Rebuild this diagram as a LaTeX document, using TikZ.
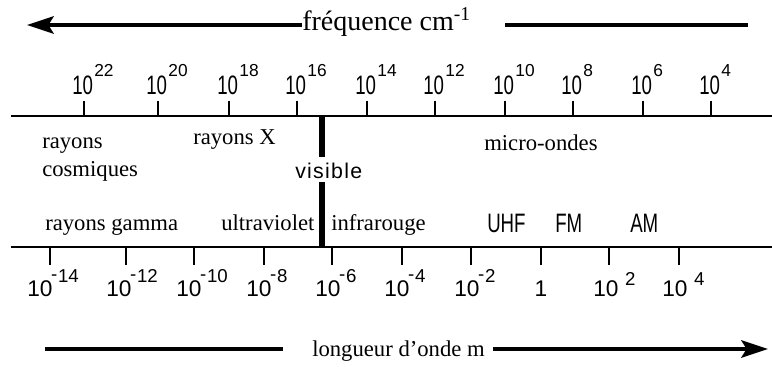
\documentclass[tikz,border=0pt]{standalone}
\usepackage{fontspec}
\setmainfont{Liberation Serif}
\newfontfamily\numfont[FakeStretch=0.7]{Liberation Sans}
\newfontfamily\supfont{Liberation Sans}
\newfontfamily\visfont[LetterSpace=6]{Liberation Sans}
\usepackage{tikz}
\usetikzlibrary{calc,arrows.meta}
\newcommand{\freqlab}[1]{10\kern1pt\raisebox{13.5pt}{\supfont\fontsize{13}{13}\selectfont #1}}
\newcommand{\wavelab}[1]{10\kern-1pt\raisebox{12.5pt}{\fontsize{14}{14}\selectfont -}\kern0.5pt\raisebox{11pt}{\fontsize{14}{14}\selectfont #1}}
\newcommand{\wavepos}[1]{10\kern5pt\raisebox{9pt}{\fontsize{14}{14}\selectfont #1}}

\begin{document}
\begin{tikzpicture}[x=0.75pt,y=-0.75pt,
  lbl/.style={anchor=base west,inner sep=0pt,font=\fontsize{17}{20}\selectfont},
  num/.style={anchor=base west,inner sep=0pt,font=\numfont\fontsize{20}{20}\selectfont},
  wnum/.style={anchor=base west,inner sep=0pt,font=\supfont\fontsize{17}{17}\selectfont},
  shaft/.style={line width=2.8pt},
  tip/.style={-{Stealth[length=20pt,width=13pt,inset=4pt]}},
  axisline/.style={line width=1.2pt},
  tickmark/.style={line width=1pt}]
\useasboundingbox (0,0) rectangle (772,367);
% frequency arrow
\node[lbl,font=\fontsize{21}{24}\selectfont] (freq) at (302,31) {fréquence cm\textsuperscript{-1}};
\coordinate (fl) at (27,25);
\coordinate (fra) at (505,25); \coordinate (frb) at (748,25);
\draw[shaft,tip] (fl -| freq.west) -- (fl);
\draw[shaft] (fra) -- (frb);
% axes
\draw[axisline] (11,116) -- (772,116);
\draw[axisline] (11,247) -- (772,247);
\foreach \x/\e in {84/22,158/20,229/18,297/16,367/14,435/12,505/10,573/8,643/6,711/4}{
  \draw[tickmark] (\x,101) -- (\x,116);
  \node[num] (f\e) at (\x-12,95) {\freqlab{\e}};
}
\foreach \x/\p/\e in {50/27/14,126/106/12,194/176/10,264/246/8,332/315/6,402/384/4,471/454/2}{
  \draw[tickmark] (\x,248) -- (\x,265);
  \node[wnum] (w\e) at (\p,297) {\wavelab{\e}};
}
\foreach \x in {541,609,679} \draw[tickmark] (\x,248) -- (\x,265);
\node[wnum,anchor=base] (w0) at (541,297) {1};
\node[wnum] (wp2) at (593,297) {\wavepos{2}};
\node[wnum] (wp4) at (662,297) {\wavepos{4}};
% visible band
\draw[line width=5.2pt] (322,116) -- (322,157);
\draw[line width=5.2pt] (322,182) -- (322,247);
\node[anchor=base west,inner sep=0pt,font=\visfont\fontsize{16}{16}\selectfont] (vis) at (295,179) {visible};
% regions
\node[lbl] (cos1) at (42,149) {rayons};
\node[lbl] (cos2) at (42,177) {cosmiques};
\node[lbl] (rx) at (193,145) {rayons X};
\node[lbl] (mo) at (484,151) {micro-ondes};
\node[lbl] (gam) at (45,231) {rayons gamma};
\node[lbl] (uv) at (221,231) {ultraviolet};
\node[lbl] (ir) at (331,231) {infrarouge};
\node[num] (uhf) at (487,233) {UHF};
\node[num] (fm) at (555,233) {FM};
\node[num] (am) at (630,233) {AM};
% wavelength arrow
\node[lbl] (lam) at (312,356) {longueur d'onde m};
\coordinate (la) at (45,349); \coordinate (lb) at (283,349);
\coordinate (lc) at (493,349); \coordinate (ld) at (768,349);
\draw[shaft] (la) -- (lb);
\draw[shaft,tip] (lc) -- (ld);
\end{tikzpicture}
\end{document}
